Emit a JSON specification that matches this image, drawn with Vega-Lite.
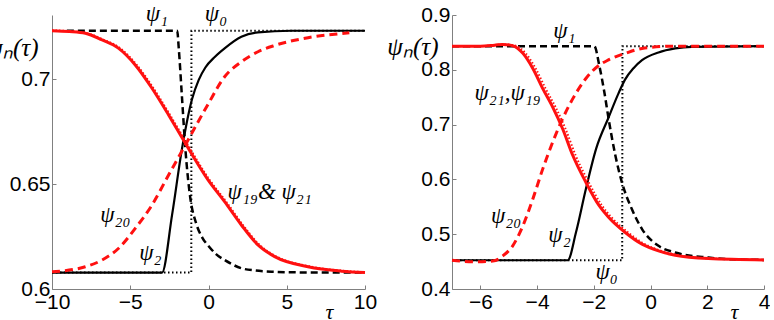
{
  "$schema": "https://vega.github.io/schema/vega-lite/v6.json",
  "padding": {"left": -14, "top": 2, "right": 0, "bottom": 0},
  "bounds": "flush",
  "spacing": 87,
  "datasets": {
    "L": [
      {"s": "psi0", "x": -10, "y": 0.6078}, {"s": "psi0", "x": -1.1, "y": 0.6078}, {"s": "psi0", "x": -1.09, "y": 0.723}, {"s": "psi0", "x": 10, "y": 0.723},
      {"s": "psi1", "x": -9.05, "y": 0.723}, {"s": "psi1", "x": -2.0, "y": 0.723}, {"s": "psi1", "x": -1.9, "y": 0.7146}, {"s": "psi1", "x": -1.69, "y": 0.6908}, {"s": "psi1", "x": -1.48, "y": 0.667}, {"s": "psi1", "x": -1.16, "y": 0.6432}, {"s": "psi1", "x": -0.8, "y": 0.6315}, {"s": "psi1", "x": -0.4, "y": 0.6245}, {"s": "psi1", "x": 0, "y": 0.6205}, {"s": "psi1", "x": 0.5, "y": 0.6165}, {"s": "psi1", "x": 1.03, "y": 0.6138}, {"s": "psi1", "x": 2.1, "y": 0.6099}, {"s": "psi1", "x": 3, "y": 0.6088}, {"s": "psi1", "x": 4.23, "y": 0.6082}, {"s": "psi1", "x": 6, "y": 0.6079}, {"s": "psi1", "x": 10, "y": 0.6078},
      {"s": "psi2", "x": -10, "y": 0.6078}, {"s": "psi2", "x": -2.97, "y": 0.6078}, {"s": "psi2", "x": -2.33, "y": 0.6352}, {"s": "psi2", "x": -1.69, "y": 0.667}, {"s": "psi2", "x": -1.05, "y": 0.6905}, {"s": "psi2", "x": -0.63, "y": 0.6995}, {"s": "psi2", "x": -0.2, "y": 0.7055}, {"s": "psi2", "x": 0.4, "y": 0.7105}, {"s": "psi2", "x": 1.03, "y": 0.7146}, {"s": "psi2", "x": 2.1, "y": 0.7201}, {"s": "psi2", "x": 3.16, "y": 0.7222}, {"s": "psi2", "x": 5.3, "y": 0.723}, {"s": "psi2", "x": 10, "y": 0.723},
      {"s": "psi20", "x": -10, "y": 0.6082}, {"s": "psi20", "x": -7.87, "y": 0.6106}, {"s": "psi20", "x": -6.8, "y": 0.6138}, {"s": "psi20", "x": -5.74, "y": 0.6194}, {"s": "psi20", "x": -4.68, "y": 0.6289}, {"s": "psi20", "x": -3.61, "y": 0.64}, {"s": "psi20", "x": -2.55, "y": 0.6543}, {"s": "psi20", "x": -1.48, "y": 0.6686}, {"s": "psi20", "x": -0.03, "y": 0.688}, {"s": "psi20", "x": 1.03, "y": 0.7011}, {"s": "psi20", "x": 2.1, "y": 0.7082}, {"s": "psi20", "x": 3.16, "y": 0.713}, {"s": "psi20", "x": 4.23, "y": 0.716}, {"s": "psi20", "x": 6.36, "y": 0.7197}, {"s": "psi20", "x": 9.0, "y": 0.722},
      {"s": "psi19", "x": -10, "y": 0.723}, {"s": "psi19", "x": -8.9, "y": 0.7226}, {"s": "psi19", "x": -7.87, "y": 0.7218}, {"s": "psi19", "x": -6.8, "y": 0.7186}, {"s": "psi19", "x": -5.74, "y": 0.7146}, {"s": "psi19", "x": -4.68, "y": 0.7067}, {"s": "psi19", "x": -3.61, "y": 0.6956}, {"s": "psi19", "x": -2.55, "y": 0.6829}, {"s": "psi19", "x": -1.48, "y": 0.6694}, {"s": "psi19", "x": -0.03, "y": 0.652}, {"s": "psi19", "x": 1.03, "y": 0.6416}, {"s": "psi19", "x": 2.1, "y": 0.6305}, {"s": "psi19", "x": 3.16, "y": 0.621}, {"s": "psi19", "x": 4.23, "y": 0.6154}, {"s": "psi19", "x": 6.36, "y": 0.6106}, {"s": "psi19", "x": 8.5, "y": 0.6085}, {"s": "psi19", "x": 10, "y": 0.6078},
      {"s": "psi21", "x": -10, "y": 0.7232}, {"s": "psi21", "x": -8.9, "y": 0.7228}, {"s": "psi21", "x": -7.8, "y": 0.7219}, {"s": "psi21", "x": -6.72, "y": 0.7188}, {"s": "psi21", "x": -5.66, "y": 0.7148}, {"s": "psi21", "x": -4.6, "y": 0.7069}, {"s": "psi21", "x": -3.53, "y": 0.6958}, {"s": "psi21", "x": -2.47, "y": 0.6831}, {"s": "psi21", "x": -1.4, "y": 0.6696}, {"s": "psi21", "x": 0.05, "y": 0.6522}, {"s": "psi21", "x": 1.11, "y": 0.6418}, {"s": "psi21", "x": 2.18, "y": 0.6307}, {"s": "psi21", "x": 3.24, "y": 0.6212}, {"s": "psi21", "x": 4.31, "y": 0.6156}, {"s": "psi21", "x": 6.44, "y": 0.6108}, {"s": "psi21", "x": 8.58, "y": 0.6087}, {"s": "psi21", "x": 10, "y": 0.608}
    ],
    "R": [
      {"s": "psi0", "x": -7, "y": 0.4525}, {"s": "psi0", "x": -1.0, "y": 0.4525}, {"s": "psi0", "x": -0.99, "y": 0.8432}, {"s": "psi0", "x": 4, "y": 0.8432},
      {"s": "psi1", "x": -7, "y": 0.8432}, {"s": "psi1", "x": -1.98, "y": 0.8432}, {"s": "psi1", "x": -1.81, "y": 0.8085}, {"s": "psi1", "x": -1.63, "y": 0.7595}, {"s": "psi1", "x": -1.48, "y": 0.711}, {"s": "psi1", "x": -1.24, "y": 0.6436}, {"s": "psi1", "x": -1.01, "y": 0.5947}, {"s": "psi1", "x": -0.66, "y": 0.546}, {"s": "psi1", "x": -0.3, "y": 0.5093}, {"s": "psi1", "x": 0.28, "y": 0.4788}, {"s": "psi1", "x": 0.87, "y": 0.4666}, {"s": "psi1", "x": 2.04, "y": 0.4574}, {"s": "psi1", "x": 3, "y": 0.454}, {"s": "psi1", "x": 4, "y": 0.4531},
      {"s": "psi2", "x": -7, "y": 0.4525}, {"s": "psi2", "x": -2.92, "y": 0.4525}, {"s": "psi2", "x": -2.63, "y": 0.5031}, {"s": "psi2", "x": -2.28, "y": 0.5826}, {"s": "psi2", "x": -1.92, "y": 0.6558}, {"s": "psi2", "x": -1.48, "y": 0.713}, {"s": "psi2", "x": -1.13, "y": 0.757}, {"s": "psi2", "x": -0.9, "y": 0.782}, {"s": "psi2", "x": -0.6, "y": 0.803}, {"s": "psi2", "x": -0.3, "y": 0.8176}, {"s": "psi2", "x": 0.28, "y": 0.8317}, {"s": "psi2", "x": 0.87, "y": 0.839}, {"s": "psi2", "x": 1.45, "y": 0.842}, {"s": "psi2", "x": 4, "y": 0.8432},
      {"s": "psi20", "x": -7, "y": 0.4525}, {"s": "psi20", "x": -6.27, "y": 0.4495}, {"s": "psi20", "x": -5.56, "y": 0.451}, {"s": "psi20", "x": -5.21, "y": 0.4604}, {"s": "psi20", "x": -4.86, "y": 0.4788}, {"s": "psi20", "x": -4.5, "y": 0.5154}, {"s": "psi20", "x": -4.15, "y": 0.5643}, {"s": "psi20", "x": -3.8, "y": 0.6192}, {"s": "psi20", "x": -3.45, "y": 0.668}, {"s": "psi20", "x": -3.1, "y": 0.7108}, {"s": "psi20", "x": -2.74, "y": 0.7474}, {"s": "psi20", "x": -2.28, "y": 0.7841}, {"s": "psi20", "x": -1.81, "y": 0.8085}, {"s": "psi20", "x": -1.48, "y": 0.818}, {"s": "psi20", "x": -0.89, "y": 0.83}, {"s": "psi20", "x": -0.3, "y": 0.839}, {"s": "psi20", "x": 0.87, "y": 0.8432}, {"s": "psi20", "x": 4, "y": 0.8432},
      {"s": "psi21", "x": -7, "y": 0.8432}, {"s": "psi21", "x": -6, "y": 0.8432}, {"s": "psi21", "x": -5.5, "y": 0.845}, {"s": "psi21", "x": -5.21, "y": 0.8463}, {"s": "psi21", "x": -4.86, "y": 0.844}, {"s": "psi21", "x": -4.5, "y": 0.83}, {"s": "psi21", "x": -4.15, "y": 0.8024}, {"s": "psi21", "x": -3.8, "y": 0.7657}, {"s": "psi21", "x": -3.45, "y": 0.732}, {"s": "psi21", "x": -3.1, "y": 0.6925}, {"s": "psi21", "x": -2.74, "y": 0.6436}, {"s": "psi21", "x": -2.28, "y": 0.5947}, {"s": "psi21", "x": -1.81, "y": 0.552}, {"s": "psi21", "x": -1.48, "y": 0.531}, {"s": "psi21", "x": -0.89, "y": 0.5031}, {"s": "psi21", "x": -0.3, "y": 0.4818}, {"s": "psi21", "x": 0.28, "y": 0.4696}, {"s": "psi21", "x": 0.87, "y": 0.4617}, {"s": "psi21", "x": 2.04, "y": 0.4556}, {"s": "psi21", "x": 4, "y": 0.4531},
      {"s": "psi19", "x": -7, "y": 0.8432}, {"s": "psi19", "x": -6, "y": 0.8432}, {"s": "psi19", "x": -5.45, "y": 0.845}, {"s": "psi19", "x": -5.15, "y": 0.8463}, {"s": "psi19", "x": -4.76, "y": 0.844}, {"s": "psi19", "x": -4.4, "y": 0.83}, {"s": "psi19", "x": -4.05, "y": 0.8024}, {"s": "psi19", "x": -3.7, "y": 0.7657}, {"s": "psi19", "x": -3.35, "y": 0.732}, {"s": "psi19", "x": -3.0, "y": 0.6925}, {"s": "psi19", "x": -2.64, "y": 0.6436}, {"s": "psi19", "x": -2.18, "y": 0.5947}, {"s": "psi19", "x": -1.71, "y": 0.552}, {"s": "psi19", "x": -1.38, "y": 0.531}, {"s": "psi19", "x": -0.79, "y": 0.5031}, {"s": "psi19", "x": -0.2, "y": 0.4818}, {"s": "psi19", "x": 0.38, "y": 0.4696}, {"s": "psi19", "x": 0.97, "y": 0.4617}, {"s": "psi19", "x": 2.14, "y": 0.4556}, {"s": "psi19", "x": 4, "y": 0.4533}
    ],
    "LT": [
      {"t": "ψ₁", "x": -3.3, "y": 0.731},
      {"t": "ψ₀", "x": 0.48, "y": 0.731},
      {"t": "ψ₂₀", "x": -5.95, "y": 0.6352},
      {"t": "ψ₂", "x": -3.72, "y": 0.6172},
      {"t": "ψ₁₉& ψ₂₁", "x": 3.91, "y": 0.6462}
    ],
    "RT": [
      {"t": "ψ₁", "x": -3.04, "y": 0.871},
      {"t": "ψ₂₁,ψ₁₉", "x": -5.04, "y": 0.757},
      {"t": "ψ₂₀", "x": -5.09, "y": 0.533},
      {"t": "ψ₂", "x": -3.21, "y": 0.498},
      {"t": "ψ₀", "x": -1.55, "y": 0.4311}
    ]
  },
  "hconcat": [
    {
      "width": 313,
      "height": 274,
      "encoding": {
        "x": {"field": "x", "type": "quantitative", "scale": {"domain": [-10, 10], "nice": false, "zero": false},
          "axis": {"values": [-10, -5, 0, 5, 10], "format": "~r", "title": "τ", "titleX": 277, "titleY": 29, "titleAlign": "center", "titleBaseline": "alphabetic", "labelPadding": 6}},
        "y": {"field": "y", "type": "quantitative", "scale": {"domain": [0.6, 0.7305], "nice": false, "zero": false},
          "axis": {"values": [0.6, 0.65, 0.7], "format": "~r", "title": "ψₙ(τ)", "titleFontSize": 25, "titleAngle": 0, "titleX": -14, "titleY": 32, "titleAlign": "right", "titleBaseline": "middle", "labelPadding": 6}}
      },
      "layer": [
        {"data": {"name": "L"}, "transform": [{"filter": "datum.s === 'psi0'"}], "mark": {"type": "line", "color": "black", "strokeWidth": 2, "strokeDash": [1.5, 2.5]}},
        {"data": {"name": "L"}, "transform": [{"filter": "datum.s === 'psi1'"}], "mark": {"type": "line", "color": "black", "strokeWidth": 2.5, "strokeDash": [7, 4], "interpolate": "monotone"}},
        {"data": {"name": "L"}, "transform": [{"filter": "datum.s === 'psi2'"}], "mark": {"type": "line", "color": "black", "strokeWidth": 2.2, "interpolate": "monotone"}},
        {"data": {"name": "L"}, "transform": [{"filter": "datum.s === 'psi20'"}], "mark": {"type": "line", "color": "#ff1010", "strokeWidth": 3, "strokeDash": [8, 5], "interpolate": "monotone"}},
        {"data": {"name": "L"}, "transform": [{"filter": "datum.s === 'psi19'"}], "mark": {"type": "line", "color": "#ff1010", "strokeWidth": 3, "interpolate": "monotone"}},
        {"data": {"name": "L"}, "transform": [{"filter": "datum.s === 'psi21'"}], "mark": {"type": "line", "color": "#ff1010", "strokeWidth": 2, "strokeDash": [1.5, 2], "interpolate": "monotone"}},
        {"data": {"name": "LT"}, "mark": {"type": "text", "font": "Liberation Serif", "fontStyle": "italic", "fontSize": 23, "align": "center", "baseline": "middle", "color": "black"}, "encoding": {"text": {"field": "t"}}}
      ]
    },
    {
      "width": 312,
      "height": 274,
      "encoding": {
        "x": {"field": "x", "type": "quantitative", "scale": {"domain": [-7, 4], "nice": false, "zero": false},
          "axis": {"values": [-6, -4, -2, 0, 2, 4], "format": "~r", "title": "τ", "titleX": 282, "titleY": 29, "titleAlign": "center", "titleBaseline": "alphabetic", "labelPadding": 6}},
        "y": {"field": "y", "type": "quantitative", "scale": {"domain": [0.4, 0.9], "nice": false, "zero": false},
          "axis": {"values": [0.4, 0.5, 0.6, 0.7, 0.8, 0.9], "format": "~r", "title": "ψₙ(τ)", "titleFontSize": 25, "titleAngle": 0, "titleX": -14, "titleY": 31, "titleAlign": "right", "titleBaseline": "middle", "labelPadding": 6}}
      },
      "layer": [
        {"data": {"name": "R"}, "transform": [{"filter": "datum.s === 'psi0'"}], "mark": {"type": "line", "color": "black", "strokeWidth": 2, "strokeDash": [1.5, 2.5]}},
        {"data": {"name": "R"}, "transform": [{"filter": "datum.s === 'psi1'"}], "mark": {"type": "line", "color": "black", "strokeWidth": 2.5, "strokeDash": [7, 4], "interpolate": "monotone"}},
        {"data": {"name": "R"}, "transform": [{"filter": "datum.s === 'psi2'"}], "mark": {"type": "line", "color": "black", "strokeWidth": 2.2, "interpolate": "monotone"}},
        {"data": {"name": "R"}, "transform": [{"filter": "datum.s === 'psi20'"}], "mark": {"type": "line", "color": "#ff1010", "strokeWidth": 3, "strokeDash": [8, 5], "interpolate": "monotone"}},
        {"data": {"name": "R"}, "transform": [{"filter": "datum.s === 'psi21'"}], "mark": {"type": "line", "color": "#ff1010", "strokeWidth": 3, "interpolate": "monotone"}},
        {"data": {"name": "R"}, "transform": [{"filter": "datum.s === 'psi19'"}], "mark": {"type": "line", "color": "#ff1010", "strokeWidth": 2, "strokeDash": [1.5, 2], "interpolate": "monotone"}},
        {"data": {"name": "RT"}, "mark": {"type": "text", "font": "Liberation Serif", "fontStyle": "italic", "fontSize": 23, "align": "center", "baseline": "middle", "color": "black"}, "encoding": {"text": {"field": "t"}}}
      ]
    }
  ],
  "config": {
    "view": {"stroke": null},
    "axis": {
      "grid": false,
      "domainColor": "#808080",
      "domainWidth": 1,
      "tickColor": "#808080",
      "tickSize": -4,
      "labelFont": "Liberation Sans",
      "labelFontSize": 21,
      "labelColor": "black",
      "labelOverlap": false,
      "labelFlush": false,
      "labelBound": false,
      "titleFont": "Liberation Serif",
      "titleFontStyle": "italic",
      "titleFontWeight": "normal",
      "titleFontSize": 22,
      "titleColor": "black"
    }
  }
}
